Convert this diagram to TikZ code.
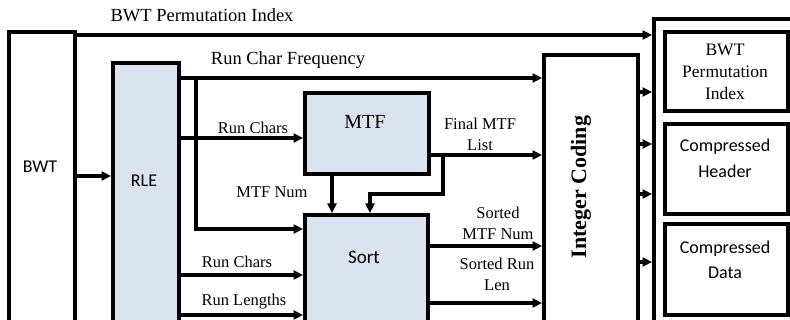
\documentclass[tikz,border=0pt]{standalone}
\usepackage{fontspec}
\setmainfont{Liberation Serif}
\newfontfamily\calib{Carlito}
\usetikzlibrary{arrows.meta}
\definecolor{boxblue}{RGB}{219,227,240}

\tikzset{
  box/.style={draw=black, line width=4pt, inner sep=0pt, anchor=north west},
  bluebox/.style={box, fill=boxblue},
  wire/.style={line width=3.3pt},
  arr/.style={wire, -{Triangle[length=9.5pt,width=9pt]}},
  lbl/.style={font=\fontsize{16.5}{21}\selectfont, inner sep=0pt, align=center},
  biglbl/.style={font=\fontsize{18.5}{22}\selectfont, inner sep=0pt},
  sanslbl/.style={font=\calib\fontsize{18}{26}\selectfont, inner sep=0pt, align=center},
  seriflbl/.style={font=\fontsize{17.5}{22}\selectfont, inner sep=0pt, align=center},
}

\begin{document}
\begin{tikzpicture}[x=1pt,y=-1pt]
\useasboundingbox (0,0) rectangle (790,320);
\clip (0,0) rectangle (790,320);

% blocks (the tall ones run past the lower edge)
\node[box, minimum width=66pt, minimum height=305pt] (bwt) at (7,30) {};
\node[bluebox, minimum width=66pt, minimum height=274pt] (rle) at (111,61) {};
\node[bluebox, minimum width=124pt, minimum height=81pt] (mtf) at (303,91) {};
\node[bluebox, minimum width=123pt, minimum height=122pt] (sort) at (303,213) {};
\node[box, minimum width=94pt, minimum height=282pt] (ic) at (542,53) {};
\node[box, minimum width=150pt, minimum height=318pt] (outer) at (652,17) {};
\node[box, minimum width=123pt, minimum height=79pt] (o1) at (663,30) {};
\node[box, minimum width=123pt, minimum height=90pt] (o2) at (663,122) {};
\node[box, minimum width=123pt, minimum height=91pt] (o3) at (663,222) {};

% block texts
\node[sanslbl] (tbwt) at (40,167) {BWT};
\node[sanslbl] (trle) at (144,181) {RLE};
\node[font=\fontsize{20}{22}\selectfont, inner sep=0pt] (tmtf) at (365,122) {MTF};
\node[sanslbl, font=\calib\fontsize{19}{22}\selectfont] (tsort) at (364,257) {Sort};
\node[rotate=90, font=\bfseries\fontsize{22}{24}\selectfont, inner sep=0pt] (tic) at (581,187) {Integer Coding};
\node[seriflbl] (to1) at (725,72) {BWT\\Permutation\\Index};
\node[sanslbl] (to2) at (725,158) {Compressed\\Header};
\node[sanslbl, font=\calib\fontsize{18}{25}\selectfont] (to3) at (725,260) {Compressed\\Data};

% junction points of the branching wires
\coordinate (j1) at (196,78);
\coordinate (j2) at (196,229);
\coordinate (j3) at (443,155);
\coordinate (j4) at (443,194);
\coordinate (j5) at (370,194);

% connectors
\draw[arr] (bwt.east |- 0,176) -- (rle.west |- 0,176);
\draw[arr] (bwt.east |- 0,35) -- (outer.west |- 0,35);
\draw[arr] (rle.east |- j1) -- (ic.west |- j1);
\draw[arr] (j1) -- (j2) -- (sort.west |- j2);
\draw[arr] (rle.east |- 0,138) -- (mtf.west |- 0,138);
\draw[arr] (mtf.south -| 332,0) -- (sort.north -| 332,0);
\draw[arr] (mtf.east |- j3) -- (ic.west |- j3);
\draw[arr] (j3) -- (j4) -- (j5) -- (sort.north -| j5);
\draw[arr] (rle.east |- 0,275) -- (sort.west |- 0,275);
\draw[arr] (rle.east |- 0,315) -- (sort.west |- 0,315);
\draw[arr] (sort.east |- 0,246) -- (ic.west |- 0,246);
\draw[arr] (sort.east |- 0,303) -- (ic.west |- 0,303);
\foreach \yy in {92,144,194,262}
  \draw[arr] (ic.east |- 0,\yy) -- (outer.west |- 0,\yy);

% connector labels
\node[biglbl] (lperm) at (202,15) {BWT Permutation Index};
\node[biglbl] (lfreq) at (288,60) {Run Char Frequency};
\node[lbl] (lrc1) at (253,128) {Run Chars};
\node[lbl] (lnum) at (272,192) {MTF Num};
\node[lbl] (lfin) at (480,134) {Final MTF\\List};
\node[lbl] (lsmn) at (498,223) {Sorted\\MTF Num};
\node[lbl] (lsrl) at (497,274) {Sorted Run\\Len};
\node[lbl] (lrc2) at (237,262) {Run Chars};
\node[lbl] (lrl) at (244,302) {Run Lengths};
\end{tikzpicture}
\end{document}
